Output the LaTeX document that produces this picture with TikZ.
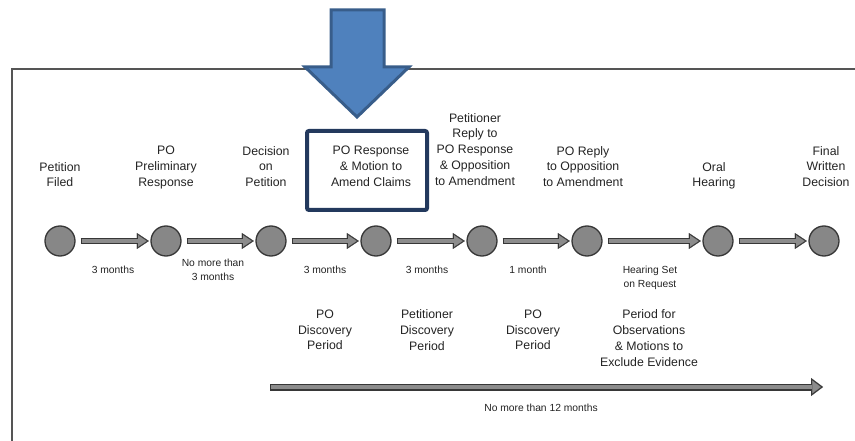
\documentclass[tikz,border=0pt]{standalone}
\usepackage{fontspec}
\setmainfont{Liberation Sans}
\definecolor{inkgray}{RGB}{35, 35, 35}
\definecolor{framegray}{RGB}{85, 85, 85}
\definecolor{dotgray}{RGB}{135, 135, 135}
\definecolor{edgegray}{RGB}{55, 55, 55}
\definecolor{shaftgray}{RGB}{140, 140, 140}
\definecolor{pointerblue}{RGB}{79, 129, 189}
\definecolor{pointeredge}{RGB}{56, 93, 138}
\definecolor{navy1}{RGB}{35, 57, 93}
\usetikzlibrary{arrows.meta}

\begin{document}
\begin{tikzpicture}[
  x=1pt, y=-1pt,
  event/.style={circle, draw=edgegray, fill=dotgray, line width=1.3pt, minimum size=30pt, inner sep=0pt},
  eventtext/.style={align=center, anchor=north, inner sep=0pt, text=inkgray, font=\fontsize{12.3}{15.8}\selectfont},
  gaptext/.style={align=center, anchor=north, inner sep=0pt, text=inkgray, font=\fontsize{10.3}{14}\selectfont},
  focus/.style={draw=navy1, line width=4pt, rounded corners=2pt, minimum width=120pt, minimum height=79pt, inner sep=0pt},
  flow/.style={draw=edgegray, line width=6pt, -{Triangle[length=12pt, width=16pt, line width=0.1pt]}, shorten <=5pt, shorten >=1.5pt,
    postaction={draw=shaftgray, line width=3.6pt, -{Triangle[length=8.6pt, width=11.5pt, line width=0.1pt]}, shorten <=6.2pt, shorten >=3.7pt}},
  longflow/.style={draw=edgegray, line width=7pt, -{Triangle[length=12pt, width=18pt, line width=0.1pt]},
    postaction={draw=shaftgray, line width=4.4pt, -{Triangle[length=8.6pt, width=12.9pt, line width=0.1pt]}, shorten <=1.3pt, shorten >=2.2pt}}
]
  \useasboundingbox (0,0) rectangle (855,441);

  % Frame
  \draw[framegray, line width=2pt] (855,69) -- (12,69) -- (12,441);

  % Pointer
  \draw[pointeredge, fill=pointerblue, line width=3pt] (331,10) -- (384,10) -- (384,67) -- (409,67) -- (357,117) -- (305,67) -- (331,67) -- cycle;
  \node[focus] (focus) at (367,170.5) {};

  % Events
  \node[event] (filed) at (60,241) {};
  \node[event] (prelim) at (166,241) {};
  \node[event] (decision) at (271,241) {};
  \node[event] (response) at (376,241) {};
  \node[event] (reply) at (482,241) {};
  \node[event] (poreply) at (587,241) {};
  \node[event] (hearing) at (718,241) {};
  \node[event] (final) at (824,241) {};

  \draw[flow] (filed) -- (prelim);
  \draw[flow] (prelim) -- (decision);
  \draw[flow] (decision) -- (response);
  \draw[flow] (response) -- (reply);
  \draw[flow] (reply) -- (poreply);
  \draw[flow] (poreply) -- (hearing);
  \draw[flow] (hearing) -- (final);

  % Event names
  \node[eventtext] (filedtxt) at (60,162) {Petition\\Filed};
  \node[eventtext] (prelimtxt) at (166,146) {PO\\Preliminary\\Response};
  \node[eventtext] (decisiontxt) at (266,146) {Decision\\on\\Petition};
  \node[eventtext] (responsetxt) at (371,146) {PO Response\\\& Motion to\\Amend Claims};
  \node[eventtext] (replytxt) at (475,113) {Petitioner\\Reply to\\PO Response\\\& Opposition\\to Amendment};
  \node[eventtext] (poreplytxt) at (583,146) {PO Reply\\to Opposition\\to Amendment};
  \node[eventtext] (hearingtxt) at (714,162) {Oral\\Hearing};
  \node[eventtext] (finaltxt) at (826,146) {Final\\Written\\Decision};

  % Intervals
  \node[gaptext] (gap1) at (113,266) {3 months};
  \node[gaptext] (gap2) at (213,259) {No more than\\3 months};
  \node[gaptext] (gap3) at (325,266) {3 months};
  \node[gaptext] (gap4) at (427,266) {3 months};
  \node[gaptext] (gap5) at (528,266) {1 month};
  \node[gaptext] (gap6) at (650,266) {Hearing Set\\on Request};

  % Periods
  \node[eventtext] (period1) at (325,309.5) {PO\\Discovery\\Period};
  \node[eventtext] (period2) at (427,309.5) {Petitioner\\Discovery\\Period};
  \node[eventtext] (period3) at (533,309.5) {PO\\Discovery\\Period};
  \node[eventtext] (period4) at (649,309.5) {Period for\\Observations\\\& Motions to\\Exclude Evidence};

  % Overall span
  \coordinate (spanstart) at (270,387);
  \coordinate (spanend) at (823,387);
  \draw[longflow] (spanstart) -- (spanend);
  \node[gaptext] (spantxt) at (541,404) {No more than 12 months};
\end{tikzpicture}
\end{document}
